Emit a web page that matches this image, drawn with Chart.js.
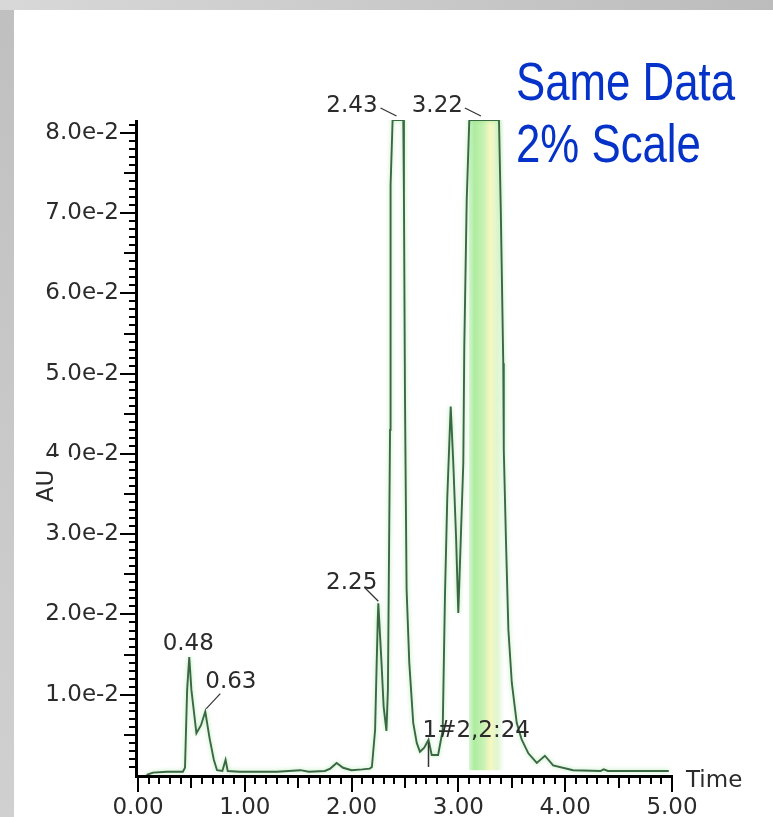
<!DOCTYPE html>
<html>
<head>
<meta charset="utf-8">
<title>Chromatogram</title>
<script src="https://cdn.jsdelivr.net/npm/chart.js@4.4.0/dist/chart.umd.min.js"></script>
<style>
  html, body { margin: 0; padding: 0; }
  body { width: 773px; height: 817px; position: relative; overflow: hidden;
         background: linear-gradient(to right, #d8d8d8, #bcbcbc); }
  #side { position: absolute; left: 0; top: 10px; width: 14px; height: 807px;
          background: linear-gradient(#c0c0c0, #d0d0d0); }
  #panel { position: absolute; left: 14px; top: 10px; right: 0; bottom: 0; background: #fff; }
  #chart { position: absolute; left: 0; top: 0; }
</style>
</head>
<body>
<div id="side"></div>
<div id="panel"></div>
<canvas id="chart" width="773" height="817"></canvas>
<script>
// retention time (min) and absorbance (AU); flat tops are detector-clipped at the scale max
var times = [0.08, 0.14, 0.27, 0.42, 0.44, 0.46, 0.48, 0.50, 0.547, 0.59, 0.63, 0.67, 0.71, 0.74,
  0.79, 0.82, 0.84, 0.95, 1.10, 1.30, 1.52, 1.60, 1.75, 1.80, 1.86, 1.92, 2.00, 2.10, 2.17,
  2.19, 2.22, 2.234, 2.245, 2.25, 2.28, 2.30, 2.326, 2.34, 2.36, 2.365, 2.384, 2.484, 2.49,
  2.50, 2.515, 2.54, 2.577, 2.61, 2.64, 2.68, 2.72, 2.75, 2.81, 2.853, 2.874, 2.896, 2.917,
  2.928, 2.952, 2.978, 2.999, 3.022, 3.046, 3.055, 3.078, 3.102, 3.38, 3.397, 3.42, 3.425,
  3.446, 3.468, 3.50, 3.546, 3.593, 3.655, 3.734, 3.81, 3.887, 4.074, 4.33, 4.36, 4.40, 4.70, 4.97];
var absorbance = [0.0000, 0.0003, 0.0004, 0.0004, 0.0009, 0.0106, 0.0147, 0.0106, 0.0052, 0.0062, 0.0079, 0.0046, 0.0019, 0.0006,
  0.0005, 0.0019, 0.0005, 0.0004, 0.0004, 0.0004, 0.0006, 0.0004, 0.0005, 0.0008, 0.0015, 0.0009, 0.0006, 0.0007, 0.0008,
  0.0010, 0.0056, 0.0135, 0.0193, 0.0214, 0.0140, 0.0085, 0.0055, 0.0106, 0.0430, 0.0735, 0.0816, 0.0816, 0.0723,
  0.0467, 0.0231, 0.0140, 0.0065, 0.0040, 0.0029, 0.0034, 0.0044, 0.0025, 0.0025, 0.0056, 0.0222, 0.0346, 0.0421,
  0.0459, 0.0389, 0.0297, 0.0202, 0.0293, 0.0389, 0.0532, 0.0717, 0.0816, 0.0816, 0.0702, 0.0513, 0.0405,
  0.0289, 0.0181, 0.0115, 0.0065, 0.0044, 0.0027, 0.0015, 0.0024, 0.0012, 0.0006, 0.0005, 0.0007, 0.0005, 0.0005, 0.0005];

var peakLabels = ['0.48', '0.63', '2.25', '2.43', '3.22'];
var peakTimes = [0.48, 0.63, 2.25, 2.43, 3.22];
var eventTimes = [2.72];
var eventLabels = ['1#2,2:24'];

var xTicks = [0, 1, 2, 3, 4, 5];
var yTicks = [0.01, 0.02, 0.03, 0.04, 0.05, 0.06, 0.07, 0.08];
var yMax = 0.0816;

// highlighted (integrated) region under the main peak
var bandFrom = 3.10, bandTo = 3.43;

var titleLines = ['Same Data', '2% Scale'];

var tickFont = '23px "DejaVu Sans"';
var textColor = '#2b2b2b';

// label placement relative to the apex, in pixels
var labelStyle = [
  { align: 'center', dx: -1, dy: -7 },
  { align: 'left', dx: 0, dy: -24, lead: [1, -3, 15, -18] },
  { align: 'right', dx: -1, dy: -14, lead: [-14, -16, 0, -2] },
  { align: 'right', dx: -20, dy: -8, lead: [-17, -12, -1, -4] },
  { align: 'right', dx: -19, dy: -8, lead: [-17, -12, -1, -4] }
];

function valueAt(t) {
  for (var i = 1; i < times.length; i++) {
    if (times[i] >= t) {
      var f = (t - times[i - 1]) / (times[i] - times[i - 1]);
      return absorbance[i - 1] + f * (absorbance[i] - absorbance[i - 1]);
    }
  }
  return absorbance[absorbance.length - 1];
}

var points = times.map(function (t, i) { return { x: t, y: absorbance[i] }; });

var decor = {
  id: 'decor',
  beforeDatasetsDraw: function (chart) {
    var ctx = chart.ctx, xs = chart.scales.x, ys = chart.scales.y;
    var x1 = xs.getPixelForValue(bandFrom), x2 = xs.getPixelForValue(bandTo);
    var top = ys.getPixelForValue(yMax), bot = ys.getPixelForValue(0.0006);
    var g = ctx.createLinearGradient(x1, 0, x2, 0);
    g.addColorStop(0, 'rgba(170,236,160,0.5)');
    g.addColorStop(0.15, '#aeeca0');
    g.addColorStop(0.4, '#c6f2b2');
    g.addColorStop(0.6, '#f6f7c0');
    g.addColorStop(0.8, '#e0f6d0');
    g.addColorStop(1, 'rgba(220,245,215,0)');
    ctx.save();
    ctx.fillStyle = g;
    ctx.fillRect(x1, top, x2 - x1, bot - top);
    ctx.restore();
  },
  beforeDatasetDraw: function (chart) {
    // soft green fringe around the trace
    var ctx = chart.ctx;
    ctx.save();
    ctx.shadowColor = 'rgba(120,215,120,0.6)';
    ctx.shadowBlur = 4;
  },
  afterDatasetDraw: function (chart) {
    chart.ctx.restore();
  },
  afterDraw: function (chart) {
    var ctx = chart.ctx, xs = chart.scales.x, ys = chart.scales.y;
    var area = chart.chartArea;
    ctx.save();

    // axis lines
    ctx.strokeStyle = '#000';
    ctx.lineWidth = 3;
    ctx.beginPath();
    ctx.moveTo(area.left - 1.5, ys.getPixelForValue(yMax));
    ctx.lineTo(area.left - 1.5, area.bottom + 3);
    ctx.moveTo(area.left - 3, area.bottom + 1.5);
    ctx.lineTo(xs.getPixelForValue(5) + 1, area.bottom + 1.5);
    ctx.stroke();

    // minor / half / major tick marks
    ctx.lineWidth = 2;
    ctx.beginPath();
    for (var i = 0; i <= 50; i++) {
      var px = Math.round(xs.getPixelForValue(i / 10));
      var len = i % 10 === 0 ? 14 : (i % 5 === 0 ? 10 : 6);
      ctx.moveTo(px, area.bottom + 3);
      ctx.lineTo(px, area.bottom + 3 + len);
    }
    for (var j = 1; j <= 81; j++) {
      var py = Math.round(ys.getPixelForValue(j / 1000));
      var ylen = j % 10 === 0 ? 15 : (j % 5 === 0 ? 11 : 6);
      ctx.moveTo(area.left - 3, py);
      ctx.lineTo(area.left - 3 - ylen, py);
    }
    ctx.stroke();

    // peak labels with leader lines
    ctx.font = tickFont;
    ctx.fillStyle = textColor;
    ctx.strokeStyle = '#333';
    ctx.lineWidth = 1.2;
    ctx.textBaseline = 'alphabetic';
    peakTimes.forEach(function (t, k) {
      var ax = xs.getPixelForValue(t), ay = ys.getPixelForValue(valueAt(t));
      var st = labelStyle[k];
      ctx.textAlign = st.align;
      ctx.fillText(peakLabels[k], ax + st.dx, ay + st.dy);
      if (st.lead) {
        ctx.beginPath();
        ctx.moveTo(ax + st.lead[0], ay + st.lead[1]);
        ctx.lineTo(ax + st.lead[2], ay + st.lead[3]);
        ctx.stroke();
      }
    });

    // event marker
    eventTimes.forEach(function (t, k) {
      var ax = xs.getPixelForValue(t), ay = ys.getPixelForValue(valueAt(t));
      ctx.textAlign = 'left';
      ctx.fillText(eventLabels[k], ax - 6, ay - 3);
      ctx.lineWidth = 1.5;
      ctx.beginPath();
      ctx.moveTo(Math.round(ax) + 0.5, ay + 3);
      ctx.lineTo(Math.round(ax) + 0.5, area.bottom - 8);
      ctx.stroke();
    });

    // axis names
    ctx.textAlign = 'left';
    ctx.fillText('Time', xs.getPixelForValue(5) + 14, area.bottom + 12);
    var auY = ys.getPixelForValue(0.036);
    ctx.fillStyle = '#fff';
    ctx.fillRect(30, auY - 29, 44, 50);
    ctx.translate(53, auY);
    ctx.rotate(-Math.PI / 2);
    ctx.fillStyle = textColor;
    ctx.textAlign = 'center';
    ctx.font = '23px "DejaVu Sans"';
    ctx.fillText('AU', 0, 0);
    ctx.restore();

    // blue caption, condensed face
    ctx.save();
    ctx.fillStyle = '#0532c8';
    ctx.font = '53px "Liberation Sans Narrow", "Liberation Sans", Arial, sans-serif';
    ctx.textAlign = 'left';
    var sx = 219 / ctx.measureText(titleLines[0]).width;
    ctx.translate(516, 0);
    ctx.scale(sx, 1);
    ctx.fillText(titleLines[0], 0, 100);
    ctx.fillText(titleLines[1], 0, 162);
    ctx.restore();
  }
};

new Chart(document.getElementById('chart').getContext('2d'), {
  type: 'line',
  data: {
    datasets: [{
      data: points,
      borderColor: '#3a6843',
      borderWidth: 1.9,
      pointRadius: 0,
      tension: 0,
      fill: false
    }]
  },
  options: {
    responsive: false,
    animation: false,
    layout: { padding: { left: 0, right: 101, top: 120, bottom: 0 } },
    plugins: { legend: { display: false }, tooltip: { enabled: false } },
    scales: {
      x: {
        type: 'linear', min: 0, max: 5,
        afterFit: function (s) { s.height = 42; },
        afterBuildTicks: function (s) { s.ticks = xTicks.map(function (v) { return { value: v }; }); },
        grid: { display: false },
        border: { display: false },
        ticks: {
          autoSkip: false, maxRotation: 0, padding: 11, color: textColor,
          font: { family: 'DejaVu Sans', size: 23 },
          callback: function (v) { return v.toFixed(2); }
        }
      },
      y: {
        min: 0, max: yMax,
        afterFit: function (s) { s.width = 138; },
        afterBuildTicks: function (s) { s.ticks = yTicks.map(function (v) { return { value: v }; }); },
        grid: { display: false },
        border: { display: false },
        ticks: {
          autoSkip: false, padding: 11, color: textColor,
          font: { family: 'DejaVu Sans', size: 23 },
          callback: function (v) { return (v * 100).toFixed(1) + 'e-2'; }
        }
      }
    }
  },
  plugins: [decor]
});
</script>
</body>
</html>
